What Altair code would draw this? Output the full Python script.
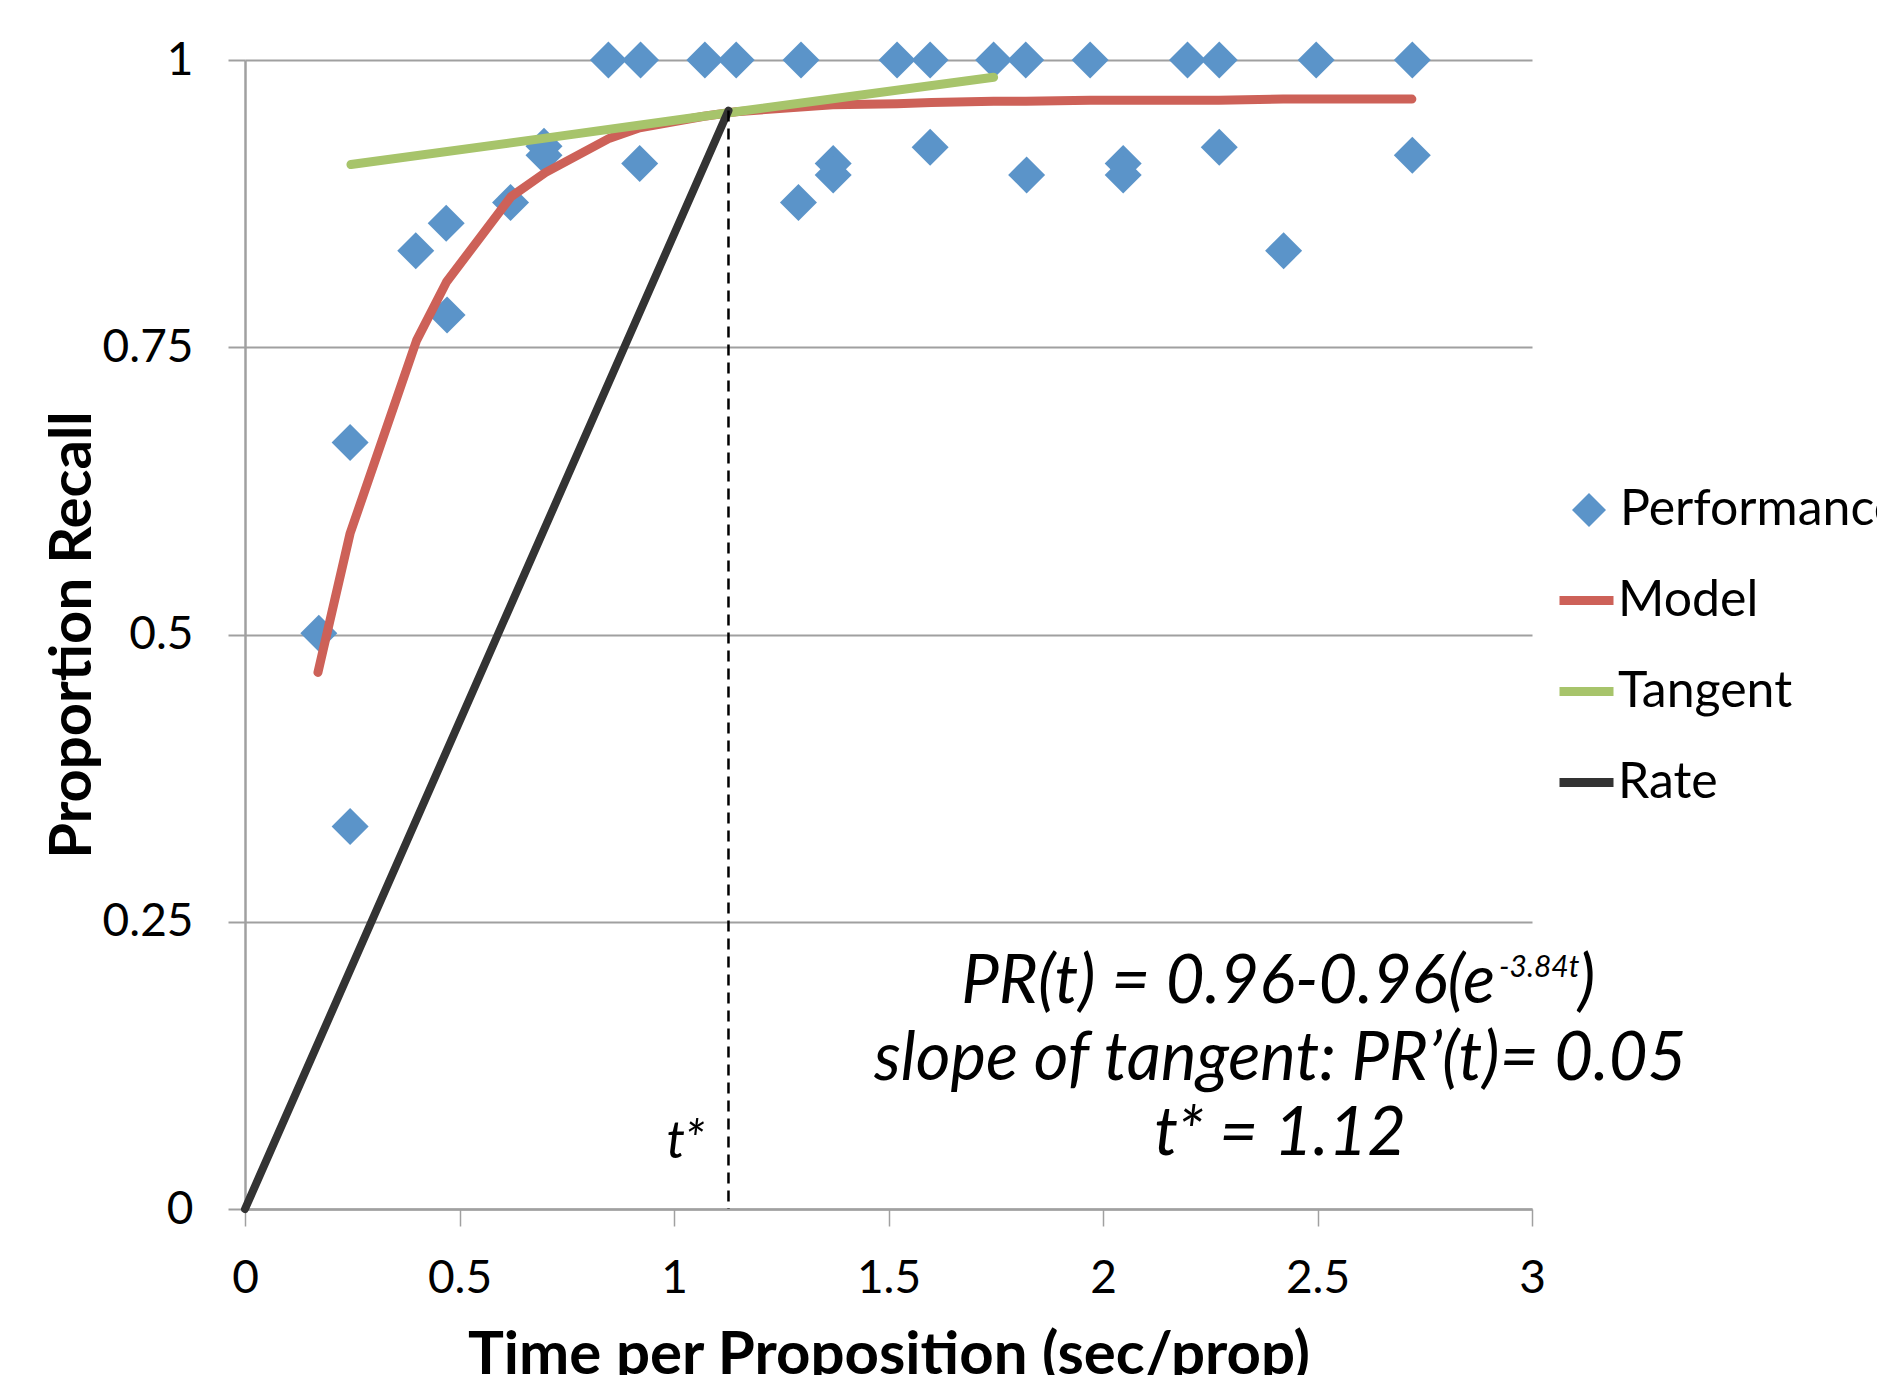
import altair as alt
import pandas as pd

# ---------------- data ----------------
perf_x = [0.172, 0.245, 0.245, 0.398, 0.469, 0.471, 0.619, 0.697, 0.697,
          0.847, 0.920, 0.922, 1.072, 1.145, 1.290, 1.296, 1.371, 1.371,
          1.520, 1.597, 1.597, 1.745, 1.820, 1.822, 1.970, 2.047, 2.047,
          2.197, 2.271, 2.271, 2.421, 2.497, 2.721, 2.721]
perf_y = [0.501, 0.667, 0.333, 0.834, 0.858, 0.778, 0.876, 0.925, 0.917,
          1.000, 0.910, 1.000, 1.000, 1.000, 0.876, 1.000, 0.910, 0.900,
          1.000, 1.000, 0.924, 1.000, 1.000, 0.900, 1.000, 0.910, 0.900,
          1.000, 1.000, 0.924, 0.834, 1.000, 1.000, 0.917]

model_x = [0.17, 0.245, 0.40, 0.47, 0.62, 0.70, 0.85, 0.92, 1.07, 1.145, 1.295,
           1.37, 1.52, 1.60, 1.745, 1.82, 1.97, 2.05, 2.20, 2.27, 2.42, 2.50, 2.72]
model_y = [0.467, 0.588, 0.756, 0.807, 0.881, 0.902, 0.932, 0.941, 0.951, 0.955,
           0.959, 0.961, 0.962, 0.963, 0.964, 0.964, 0.965, 0.965, 0.965, 0.965,
           0.966, 0.966, 0.966]

tangent_x = [0.247, 0.70, 1.145, 1.745]
tangent_y = [0.909, 0.932, 0.955, 0.985]

rate_x = [0.0, 1.127]
rate_y = [0.0, 0.956]

dash_x = [1.127]
dash_top = [0.956]
dash_bottom = [0.0]

x_ticks = [0, 0.5, 1, 1.5, 2, 2.5, 3]
y_ticks = [0, 0.25, 0.5, 0.75, 1]

series_names = ["Performance", "Model", "Tangent", "Rate"]
series_colors = ["#5B94C9", "#CD6158", "#A7C46B", "#333333"]

eq1_text = ["PR(t) = 0.96-0.96(e"]
eq1_x = [2.914]
eq1_y = [0.179]
eq_text = ["slope of tangent: PR\u2019(t)= 0.05", "t* = 1.12"]
eq_x = [2.413, 2.413]
eq_y = [0.112, 0.047]
sup_text = ["-3.84t"]
sup_x = [2.923]
sup_y = [0.202]
close_text = [")"]
close_x = [3.107]
close_y = [0.179]
tstar_text = ["t*"]
tstar_x = [1.072]
tstar_y = [0.044]

FONT = "Lato"

# ---------------- tables ----------------
perf_df = pd.DataFrame({"x": perf_x, "y": perf_y, "series": "Performance"})
lines_df = pd.concat([
    pd.DataFrame({"x": model_x, "y": model_y, "series": "Model"}),
    pd.DataFrame({"x": tangent_x, "y": tangent_y, "series": "Tangent"}),
    pd.DataFrame({"x": rate_x, "y": rate_y, "series": "Rate"}),
], ignore_index=True)
dash_df = pd.DataFrame({"x": dash_x, "y": dash_top, "y2": dash_bottom})
eq1_df = pd.DataFrame({"x": eq1_x, "y": eq1_y, "text": eq1_text})
eq_df = pd.DataFrame({"x": eq_x, "y": eq_y, "text": eq_text})
sup_df = pd.DataFrame({"x": sup_x, "y": sup_y, "text": sup_text})
close_df = pd.DataFrame({"x": close_x, "y": close_y, "text": close_text})
tstar_df = pd.DataFrame({"x": tstar_x, "y": tstar_y, "text": tstar_text})

xscale = alt.Scale(domain=[0, 3], nice=False, zero=False)
yscale = alt.Scale(domain=[0, 1], nice=False, zero=False)

xaxis = alt.Axis(values=x_ticks, format="~g", grid=False, labelFlush=False,
                 labelOverlap=False, domainColor="#A0A0A0", domainWidth=2.5,
                 tickColor="#A0A0A0", tickWidth=1.5, tickSize=17,
                 labelFont=FONT, labelFontSize=46, labelColor="black",
                 labelPadding=30, title="Time per Proposition (sec/prop)",
                 titleFont=FONT, titleFontSize=60, titleFontWeight="bold",
                 titleColor="black", titlePadding=25)
yaxis = alt.Axis(values=y_ticks, format="~g", grid=True, gridColor="#A0A0A0",
                 gridWidth=2, labelFlush=False, labelOverlap=False,
                 domainColor="#A0A0A0", domainWidth=2.5, tickColor="#A0A0A0",
                 tickWidth=2, tickSize=17, labelFont=FONT, labelFontSize=46,
                 labelColor="black", labelPadding=35, title="Proportion Recall",
                 titleFont=FONT, titleFontSize=58, titleFontWeight="bold",
                 titleColor="black", titlePadding=0)

X = alt.X("x:Q", scale=xscale, axis=xaxis)
Y = alt.Y("y:Q", scale=yscale, axis=yaxis)
Xn = alt.X("x:Q", scale=xscale)
Yn = alt.Y("y:Q", scale=yscale)

stroke_enc = alt.Stroke(
    "series:N",
    scale=alt.Scale(domain=series_names[1:], range=series_colors[1:]),
    legend=alt.Legend(title=None, orient="none", legendX=1310, legendY=509,
                      symbolType="stroke", symbolSize=2916, symbolStrokeWidth=9,
                      labelFont=FONT, labelFontSize=50, labelColor="black",
                      labelOffset=0, rowPadding=34, padding=0, labelLimit=1000),
)
fill_enc = alt.Fill(
    "series:N",
    scale=alt.Scale(domain=series_names[:1], range=series_colors[:1]),
    legend=alt.Legend(title=None, orient="none", legendX=1319, legendY=425,
                      symbolType="diamond", symbolSize=1156, symbolStrokeWidth=0,
                      labelFont=FONT, labelFontSize=50, labelColor="black",
                      labelOffset=6, padding=0, labelLimit=1000),
)

points = alt.Chart(perf_df).mark_point(
    shape="diamond", filled=True, size=1369, opacity=1, strokeWidth=0
).encode(x=X, y=Y, fill=fill_enc)

def line_layer(name, width):
    return alt.Chart(lines_df).transform_filter(
        alt.datum.series == name
    ).mark_line(strokeWidth=width, strokeCap="round", strokeJoin="round").encode(
        x=Xn, y=Yn, stroke=stroke_enc
    )

model = line_layer("Model", 9)
tangent = line_layer("Tangent", 9)
rate = line_layer("Rate", 8)

dash = alt.Chart(dash_df).mark_rule(
    color="black", strokeWidth=2.5, strokeDash=[11, 7]
).encode(x=Xn, y=Yn, y2="y2:Q")

def text_layer(df, size, align):
    return alt.Chart(df).mark_text(
        font=FONT, fontSize=size, fontStyle="italic", color="black",
        align=align, baseline="alphabetic"
    ).encode(x=Xn, y=Yn, text="text:N")

eq1 = text_layer(eq1_df, 67, "right")
eq = text_layer(eq_df, 67, "center")
sup = text_layer(sup_df, 30, "left")
close = text_layer(close_df, 67, "left")
tstar = text_layer(tstar_df, 52, "right")

chart = alt.layer(points, model, tangent, rate, dash, eq1, eq, sup, close, tstar).properties(
    width=1287, height=1149,
    autosize=alt.AutoSizeParams(type="none"),
    padding={"left": 237, "top": 52, "right": 345, "bottom": 166},
    background="white",
).configure_view(strokeWidth=0)

chart.save("out.html", embed_options={"renderer": "svg", "actions": False})
